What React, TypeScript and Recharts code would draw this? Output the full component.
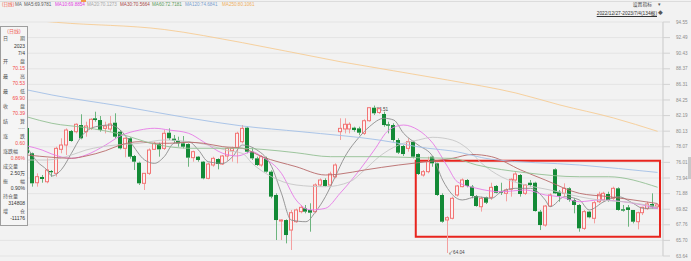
import React from 'react';
import { ComposedChart, Bar, Line, XAxis, YAxis, CartesianGrid, ReferenceArea } from 'recharts';

// daily candles, 2022/12/27 - 2023/7/4 (visible part)
const opens = [
  80.55, 77.21, 73.32, 74.08, 73.45, 74.87, 74.56, 77.73, 78.3, 80.15,
  80.06, 80.94, 80.06, 80.5, 81.83, 81.6, 80.5, 80.42, 81.25, 80.06,
  77.86, 79.19, 76.85, 75.96, 73.24, 74.56, 77.73, 78.43, 77.86, 79.93,
  79.14, 78.87, 78.52, 78.43, 76.63, 76.76, 76.1, 73.9, 75.66, 76.45,
  75.79, 76.85, 77.55, 78.0, 78.74, 80.59, 77.42, 76.54, 75.66, 76.54,
  74.78, 71.7, 68.26, 68.39, 67.07, 68.17, 69.5, 69.94, 69.72, 69.5,
  73.02, 73.68, 73.02, 74.1, 80.06, 80.42, 80.42, 80.59, 80.5, 79.84,
  81.51, 83.23, 82.6, 82.4, 81.04, 80.94, 78.96, 78.17, 77.86, 78.74,
  77.11, 74.34, 74.78, 76.76, 75.88, 71.7, 68.4, 68.62, 71.7, 72.8,
  73.68, 72.8, 71.57, 70.15, 71.39, 71.39, 72.89, 72.13, 71.92, 72.45,
  73.68, 74.34, 71.92, 73.32, 73.32, 69.5, 67.73, 70.24, 75.09, 72.13,
  71.92, 72.58, 71.04, 70.38, 67.29, 69.5, 68.62, 70.81, 71.04, 71.83,
  71.26, 72.58, 69.81, 70.07, 69.72, 68.17, 69.36, 69.9, 70.51, 70.15,
];
const highs = [
  80.7, 77.3, 74.56, 74.34, 76.54, 75.0, 78.08, 79.19, 80.5, 80.28,
  81.17, 82.36, 81.38, 81.83, 82.7, 82.13, 81.38, 82.13, 82.49, 80.28,
  79.32, 79.32, 76.98, 76.1, 74.56, 77.86, 78.74, 78.61, 80.28, 80.5,
  79.62, 79.4, 79.49, 78.52, 77.55, 76.85, 76.19, 75.96, 76.76, 76.54,
  76.98, 78.0, 78.08, 80.06, 80.94, 80.72, 77.86, 76.76, 76.98, 76.76,
  74.96, 71.92, 68.48, 68.48, 69.72, 69.9, 70.38, 70.38, 70.6, 73.24,
  73.9, 73.9, 74.78, 75.88, 81.83, 81.83, 81.3, 80.72, 80.72, 81.7,
  83.3, 83.51, 83.3, 82.7, 81.38, 81.17, 79.19, 78.3, 79.19, 78.87,
  77.2, 75.0, 76.76, 76.85, 75.96, 71.92, 68.9, 71.48, 73.02, 73.9,
  73.81, 73.02, 71.7, 71.48, 71.48, 73.32, 73.02, 73.32, 72.58, 73.9,
  74.78, 74.47, 73.15, 73.68, 73.45, 69.72, 70.38, 71.92, 75.22, 72.36,
  73.24, 72.71, 71.26, 70.51, 69.72, 69.58, 70.9, 72.13, 72.13, 72.13,
  72.8, 72.71, 70.38, 70.38, 69.72, 69.5, 70.15, 70.81, 71.92, 70.53,
];
const lows = [
  76.98, 72.8, 72.8, 73.32, 73.24, 74.1, 74.12, 77.21, 76.98, 78.74,
  79.84, 79.05, 79.4, 80.28, 81.38, 80.06, 79.84, 80.06, 79.19, 77.73,
  76.68, 76.5, 75.0, 73.02, 72.36, 74.34, 77.64, 76.76, 77.64, 78.96,
  78.57, 78.08, 77.86, 75.43, 76.1, 76.1, 73.77, 73.77, 75.43, 75.09,
  75.66, 76.23, 76.1, 75.88, 78.52, 77.21, 76.32, 75.53, 75.43, 74.65,
  71.26, 65.75, 65.75, 65.31, 64.43, 68.02, 69.28, 69.28, 66.85, 69.28,
  72.8, 72.8, 72.89, 73.9, 78.96, 79.84, 79.84, 80.06, 79.6, 79.62,
  81.38, 82.27, 82.4, 80.72, 79.84, 78.74, 77.11, 76.85, 77.42, 76.54,
  74.34, 74.12, 74.56, 75.43, 71.57, 68.04, 64.04, 68.48, 71.48, 72.71,
  72.71, 71.26, 70.15, 69.5, 70.51, 71.04, 71.92, 71.7, 70.86, 71.48,
  73.45, 71.48, 71.7, 72.8, 69.5, 67.07, 67.51, 70.15, 71.83, 70.81,
  71.48, 70.81, 69.28, 66.85, 67.07, 68.62, 67.95, 70.6, 70.81, 70.81,
  71.04, 69.63, 69.5, 67.51, 67.95, 67.16, 69.05, 69.72, 69.94, 69.9,
];
const closes = [
  77.21, 73.24, 74.12, 73.81, 75.0, 74.7, 77.86, 78.3, 80.28, 78.83,
  81.04, 79.19, 80.81, 81.7, 81.6, 80.28, 80.81, 81.08, 79.4, 77.86,
  79.19, 76.76, 76.1, 73.24, 74.56, 77.64, 78.52, 77.73, 79.85, 79.19,
  78.87, 78.52, 78.08, 76.63, 77.42, 76.32, 73.9, 75.79, 76.54, 75.79,
  76.85, 77.86, 77.86, 79.85, 80.5, 77.42, 76.54, 75.66, 76.76, 74.78,
  71.48, 68.39, 68.4, 66.41, 69.36, 69.72, 70.07, 69.5, 69.36, 73.02,
  73.68, 72.89, 74.47, 75.66, 80.5, 81.04, 81.04, 80.28, 79.93, 81.51,
  83.23, 82.49, 83.1, 80.94, 80.85, 78.96, 77.29, 77.11, 78.74, 76.76,
  74.47, 74.78, 76.1, 75.88, 71.7, 68.17, 68.7, 71.26, 72.89, 73.68,
  72.89, 71.57, 70.24, 71.26, 70.68, 72.71, 72.0, 72.0, 72.36, 73.77,
  74.47, 71.83, 73.02, 73.02, 69.58, 67.73, 70.24, 71.7, 71.92, 71.57,
  72.58, 71.04, 70.38, 67.29, 69.5, 68.75, 70.68, 71.79, 71.92, 71.04,
  72.58, 69.72, 69.63, 69.72, 68.17, 69.36, 70.07, 70.51, 70.15, 70.39,
];

// moving averages: [candle index, value]
const ma5Pts: [number, number][] = [
  [0, 77.91], [2, 76.1], [4, 75.0], [5, 74.21], [7, 75.09], [9, 77.2], [11, 79.4], [14, 80.72],
  [17, 80.94], [19, 80.28], [21, 78.74], [24, 76.32], [26, 75.88], [28, 76.76], [30, 78.53],
  [33, 78.74], [35, 77.64], [37, 76.1], [40, 75.88], [42, 76.76], [44, 78.3], [47, 77.64],
  [50, 75.44], [52, 71.92], [54, 68.39], [57, 68.17], [59, 69.49], [61, 71.47], [63, 74.11],
  [65, 76.76], [68, 79.4], [70, 80.72], [73, 81.83], [75, 81.6], [77, 79.85], [80, 78.3],
  [83, 76.76], [85, 73.68], [89, 71.04], [92, 71.47], [95, 71.26], [97, 72.13], [100, 72.58],
  [103, 72.58], [106, 71.04], [107, 70.15], [110, 71.47], [113, 71.04], [115, 69.72],
  [118, 70.81], [121, 71.47], [124, 70.6], [126, 69.94], [129, 69.98],
];
const ma10Pts: [number, number][] = [
  [0, 78.17], [3, 77.64], [5, 77.11], [9, 76.54], [12, 76.98], [16, 78.3], [19, 79.49], [23, 80.28],
  [26, 80.51], [29, 80.28], [33, 79.85], [36, 78.74], [40, 77.2], [43, 76.85], [46, 77.42],
  [48, 76.76], [52, 74.56], [55, 71.04], [58, 69.72], [61, 69.94], [64, 71.92], [68, 75.0],
  [71, 77.64], [74, 80.28], [77, 80.94], [80, 80.28], [83, 78.53], [86, 75.44], [88, 73.45],
  [92, 72.58], [97, 72.13], [102, 72.36], [106, 71.7], [109, 71.47], [113, 70.81], [117, 71.04],
  [122, 70.81], [126, 70.37], [129, 69.89],
];
const ma20Pts: [number, number][] = [
  [0, 76.32], [4, 76.32], [9, 76.98], [12, 77.64], [18, 78.3], [23, 78.52], [28, 78.96], [33, 78.74],
  [37, 78.3], [41, 77.55], [44, 77.2], [46, 75.88], [50, 74.11], [55, 73.02], [61, 72.79],
  [66, 73.45], [69, 75.0], [72, 76.76], [76, 78.3], [80, 78.96], [83, 79.32], [87, 78.96],
  [90, 77.87], [93, 75.88], [97, 74.11], [102, 73.02], [107, 72.36], [113, 71.47], [117, 71.04],
  [122, 70.81], [129, 70.13],
];
const ma30Pts: [number, number][] = [
  [0, 76.98], [5, 76.68], [9, 76.55], [12, 76.85], [16, 77.55], [19, 78.3], [23, 78.74], [26, 78.53],
  [29, 78.53], [33, 78.66], [36, 78.53], [40, 78.08], [44, 77.87], [48, 76.76], [55, 75.44],
  [61, 74.34], [64, 74.47], [69, 75.0], [76, 75.66], [80, 75.96], [87, 76.54], [91, 77.05],
  [95, 76.76], [101, 75.0], [106, 73.68], [113, 71.92], [119, 71.48], [129, 70.57],
];
const ma60Pts: [number, number][] = [
  [0, 82.0], [5, 81.17], [12, 80.59], [19, 79.75], [26, 78.43], [33, 77.87], [44, 77.87], [48, 77.73],
  [55, 77.28], [62, 76.76], [72, 76.76], [80, 76.62], [87, 76.54], [92, 75.66], [102, 74.64],
  [113, 74.11], [119, 74.11], [129, 72.72],
];
const ma120Pts: [number, number][] = [
  [0, 85.57], [5, 84.91], [19, 83.45], [33, 81.87], [44, 80.81], [56, 80.06], [72, 78.96], [82, 77.87],
  [87, 77.51], [95, 76.41], [113, 75.66], [129, 74.68],
];
const ma250Pts: [number, number][] = [
  [0, 94.85], [6, 94.5], [28, 93.56], [44, 91.82], [64, 89.31], [86, 86.89], [100, 85.17],
  [109, 83.59], [120, 81.87], [129, 80.11],
];

const priceTicks = [63.64, 65.7, 67.76, 69.82, 71.88, 73.94, 76.01, 78.07, 80.13, 82.19, 84.25, 86.31, 88.37, 90.43, 92.49, 94.55];

const maLegend = [
  { key: 'ma5', text: 'MA5:69.9781', color: '#5a5a5a', line: '#8c8c8c', left: 24 },
  { key: 'ma10', text: 'MA10:69.8854', color: '#e23fe2', line: '#e77ae7', left: 55 },
  { key: 'ma20', text: 'MA20:70.1273', color: '#a8a8a8', line: '#c6c6c6', left: 87 },
  { key: 'ma30', text: 'MA30:70.5664', color: '#a84848', line: '#b86a6a', left: 120 },
  { key: 'ma60', text: 'MA60:72.7181', color: '#5c9c5c', line: '#93bf93', left: 152 },
  { key: 'ma120', text: 'MA120:74.6841', color: '#7a9fd0', line: '#a3c0e6', left: 185 },
  { key: 'ma250', text: 'MA250:80.1061', color: '#f0b060', line: '#f6cc94', left: 222 },
];

const infoRows: [string, string, string?][] = [
  ['日', '期'], ['', '2023'], ['', '7/4'],
  ['开', '盘'], ['', '70.15', 'r'],
  ['最', '高'], ['', '70.53', 'r'],
  ['最', '低'], ['', '69.90', 'r'],
  ['收', '盘'], ['', '70.39', 'r'],
  ['结', '算'], ['', '----', 'g'],
  ['涨', '跌'], ['', '0.60', 'r'],
  ['涨跌幅', ''], ['', '0.86%', 'r'],
  ['成交量', ''], ['', '2.50万'],
  ['振', '幅'], ['', '0.90%'],
  ['持仓量', ''], ['', '314808'],
  ['增', '仓'], ['', '-11176'],
];

const days = opens.map((_, i) => String(i + 1));
const hiIdx = highs.indexOf(Math.max(...highs));
const loIdx = lows.indexOf(Math.min(...lows));

const table: any[] = days.map((d, i) => ({
  d, open: opens[i], high: highs[i], low: lows[i], close: closes[i],
  note: i === hiIdx ? 'hi' : i === loIdx ? 'lo' : undefined,
}));
const put = (key: string, pts: [number, number][]) => pts.forEach(([i, v]) => { table[i][key] = v; });
put('ma5', ma5Pts); put('ma10', ma10Pts); put('ma20', ma20Pts); put('ma30', ma30Pts);
put('ma60', ma60Pts); put('ma120', ma120Pts); put('ma250', ma250Pts);

const UP = '#f27474';
const DOWN = '#138a36';

function Candle(props: any) {
  const { x, y, width, height, payload } = props;
  if (!payload || height == null) return null;
  const { open, close, high, low, note } = payload;
  const span = high - low || 1;
  const py = (v: number) => y + ((high - v) / span) * height;
  const up = close >= open;
  const cx = Math.round(x + width / 2) + 0.5;
  const top = py(Math.max(open, close));
  const bot = py(Math.min(open, close));
  const bx = Math.round(x);
  return (
    <g>
      <line x1={cx} x2={cx} y1={y} y2={top} stroke={up ? '#f4a0a0' : '#6cb47e'} />
      <line x1={cx} x2={cx} y1={bot} y2={y + height} stroke={up ? '#f4a0a0' : '#6cb47e'} />
      {up ? (
        <rect x={bx + 0.5} y={top} width={Math.max(width - 1, 1)} height={Math.max(bot - top, 1)} fill="#fbf0f0" stroke={UP} strokeWidth={1} />
      ) : (
        <rect x={bx} y={top} width={width} height={Math.max(bot - top, 1)} fill={DOWN} />
      )}
      {note === 'hi' && (
        <text x={cx + 2} y={y + 5} fontSize={4.6} fill="#444">{high.toFixed(2)}</text>
      )}
      {note === 'lo' && (
        <text x={cx + 1} y={y + height + 1.5} fontSize={4.6} fill="#444">↙{low.toFixed(2)}</text>
      )}
    </g>
  );
}

const font = "'Liberation Sans', 'Noto Sans CJK SC', sans-serif";

export default function App() {
  return (
    <div style={{ position: 'absolute', left: 0, top: 0, width: 691, height: 261, background: '#f2f2f2', fontFamily: font, overflow: 'hidden' }}>
      <div style={{ position: 'absolute', left: 0, top: 1, width: 691, height: 1, background: '#dcdcdc' }} />
      <div style={{ position: 'absolute', left: 81, top: 0, width: 5, height: 2, background: '#f39a4a' }} />
      <ComposedChart width={691} height={261} data={table} margin={{ top: 22, right: 0, bottom: 5, left: 0 }}>
        <CartesianGrid vertical={false} stroke="#e4e4e4" />
        <XAxis dataKey="d" hide padding={{ left: 25, right: 3 }} />
        <YAxis
          orientation="right"
          width={28}
          domain={[63.64, 94.55]}
          ticks={priceTicks}
          interval={0}
          allowDataOverflow
          axisLine={{ stroke: '#c9c9c9' }}
          tickLine={{ stroke: '#d2d2d2' }}
          tickSize={7}
          tickMargin={6}
          tick={{ fontSize: 4.6, fill: '#8c8c8c', fontFamily: font }}
          tickFormatter={(v: number) => v.toFixed(2)}
        />
        <Bar dataKey={(r: any) => [r.low, r.high]} barSize={4} shape={<Candle />} isAnimationActive={false} />
        {maLegend.map((m) => (
          <Line key={m.key} dataKey={m.key} type="monotone" stroke={m.line} strokeWidth={0.9} dot={false} activeDot={false} connectNulls isAnimationActive={false} />
        ))}
        <ReferenceArea x1={days[80]} x2={days[129]} y1={66.19} y2={76.23} fill="none" stroke="#e8251e" strokeWidth={2} ifOverflow="visible" />
      </ComposedChart>

      <div style={{ position: 'absolute', top: 2, left: 2, fontSize: 4.6, lineHeight: '6px', color: '#f25c4a', whiteSpace: 'nowrap' }}>(日线)</div>
      <div style={{ position: 'absolute', top: 2, left: 15, fontSize: 4.6, lineHeight: '6px', color: '#666', whiteSpace: 'nowrap' }}>MA</div>
      {maLegend.map((m) => (
        <div key={m.key} style={{ position: 'absolute', top: 2, left: m.left, fontSize: 4.6, lineHeight: '6px', color: m.color, whiteSpace: 'nowrap' }}>{m.text}</div>
      ))}

      <div style={{ position: 'absolute', top: 2, right: 39, fontSize: 4.8, lineHeight: '6px', color: '#444', whiteSpace: 'nowrap' }}>设置指标</div>
      <div style={{ position: 'absolute', top: 2, left: 658, fontSize: 4.8, lineHeight: '6px', color: '#555' }}>▾</div>
      <div style={{ position: 'absolute', top: 11, right: 34, fontSize: 4.8, lineHeight: '6px', color: '#333', textDecoration: 'underline', whiteSpace: 'nowrap' }}>2022/12/27-2023/7/4(134根)</div>
      <div style={{ position: 'absolute', top: 10, left: 658, fontSize: 4.8, lineHeight: '6px', color: '#555' }}>◆</div>
      <div style={{ position: 'absolute', top: 157, left: 688, width: 3, height: 22, background: '#c8c8c8' }} />

      <div style={{ position: 'absolute', left: 0, top: 26, width: 26, height: 197, border: '1px solid #9e9e9e', background: '#f5f5f5', fontSize: 5, lineHeight: '7.48px', paddingTop: 1 }}>
        <div style={{ textAlign: 'center', color: '#f0645a' }}>(日线)</div>
        {infoRows.map(([a, b, c], i) => (
          a ? (
            <div key={i} style={{ display: 'flex', justifyContent: 'space-between', padding: '0 2px', color: '#555' }}>
              <span>{a}</span><span>{b}</span>
            </div>
          ) : (
            <div key={i} style={{ textAlign: 'right', paddingRight: 2, color: c === 'r' ? '#f24848' : c === 'g' ? '#888' : '#333' }}>{b}</div>
          )
        ))}
      </div>
    </div>
  );
}
